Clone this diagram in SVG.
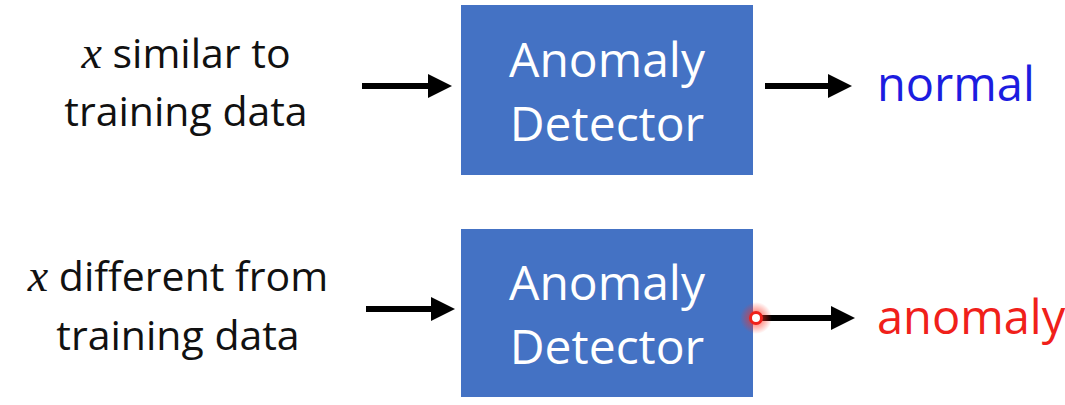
<svg xmlns="http://www.w3.org/2000/svg" width="1065" height="405" viewBox="0 0 1065 405">
<style>
.box{fill:#4472C4}
.bt{font-family:"Open Sans",sans-serif;font-size:48px;fill:#fff;text-anchor:middle}
.lt{font-family:"Open Sans",sans-serif;font-size:41px;fill:#111;text-anchor:middle}
.xv{font-family:"Liberation Serif",serif;font-style:italic;font-size:46px}
.conn{stroke:#000;stroke-width:6;fill:none}
.ot{font-family:"Open Sans",sans-serif;font-size:47px}
</style>
<defs>
<marker id="ah" markerWidth="4" markerHeight="4" refX="2" refY="2" orient="auto" markerUnits="strokeWidth" viewBox="0 0 4 4">
<path d="M0,0 L4,2 L0,4 Z" fill="#000"/>
</marker>
<radialGradient id="glow">
<stop offset="0" stop-color="#ff3020" stop-opacity="0.85"/>
<stop offset="1" stop-color="#ff3020" stop-opacity="0"/>
</radialGradient>
</defs>
<g id="in1"><text class="lt" x="186" y="68"><tspan class="xv">x</tspan> similar to</text><text class="lt" x="186" y="126">training data</text></g>
<g id="in2"><text class="lt" x="178" y="291"><tspan class="xv">x</tspan> different from</text><text class="lt" x="178" y="350">training data</text></g>
<g id="det1"><rect class="box" x="461" y="5" width="292" height="170"/><text class="bt" x="607" y="77">Anomaly</text><text class="bt" x="607" y="141">Detector</text></g>
<g id="det2"><rect class="box" x="461" y="229" width="292" height="168"/><text class="bt" x="607" y="300">Anomaly</text><text class="bt" x="607" y="364">Detector</text></g>
<g id="out1"><text class="ot" x="877" y="101" fill="#1c1ce0">normal</text></g>
<g id="out2"><text class="ot" x="877" y="334" fill="#f0201a">anomaly</text></g>
<g id="connectors">
<line class="conn" x1="362" y1="86" x2="440" y2="86" marker-end="url(#ah)"/>
<line class="conn" x1="765" y1="86" x2="840" y2="86" marker-end="url(#ah)"/>
<line class="conn" x1="366" y1="309" x2="443" y2="309" marker-end="url(#ah)"/>
<line class="conn" x1="760" y1="318" x2="843" y2="318" marker-end="url(#ah)"/>
</g>
<circle cx="756" cy="318" r="16" fill="url(#glow)"/>
<circle cx="756" cy="318" r="5.5" fill="#fff" stroke="#f0201a" stroke-width="3"/>
</svg>
